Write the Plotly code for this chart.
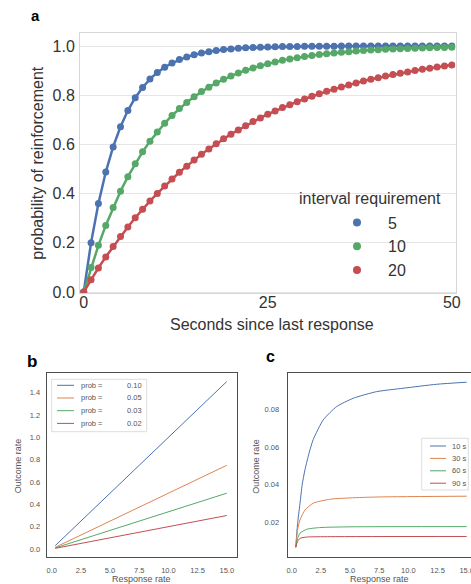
import plotly.graph_objects as go

# ---------------- Panel a data ----------------
seconds = list(range(51))
interval_labels = ["5", "10", "20"]
prob_5 = [0, 0.2, 0.36, 0.488, 0.59, 0.672, 0.738, 0.79, 0.832, 0.866, 0.893, 0.914, 0.931,
          0.945, 0.956, 0.965, 0.972, 0.977, 0.982, 0.986, 0.988, 0.991, 0.993, 0.994, 0.995,
          0.996, 0.997, 0.998, 0.998, 0.998, 0.999, 0.999, 0.999, 0.999, 0.999, 1.0, 1.0, 1.0,
          1.0, 1.0, 1.0, 1.0, 1.0, 1.0, 1.0, 1.0, 1.0, 1.0, 1.0, 1.0, 1.0]
prob_10 = [0, 0.1, 0.19, 0.271, 0.344, 0.41, 0.469, 0.522, 0.57, 0.613, 0.651, 0.686, 0.718,
           0.746, 0.771, 0.794, 0.815, 0.833, 0.85, 0.865, 0.878, 0.891, 0.902, 0.911, 0.92,
           0.928, 0.935, 0.942, 0.948, 0.953, 0.958, 0.962, 0.966, 0.969, 0.972, 0.975, 0.977,
           0.98, 0.982, 0.984, 0.985, 0.987, 0.988, 0.989, 0.99, 0.991, 0.992, 0.993, 0.994,
           0.994, 0.995]
prob_20 = [0, 0.05, 0.098, 0.143, 0.185, 0.226, 0.265, 0.302, 0.337, 0.37, 0.401, 0.431, 0.46,
           0.487, 0.512, 0.537, 0.56, 0.582, 0.603, 0.623, 0.642, 0.659, 0.676, 0.693, 0.708,
           0.723, 0.736, 0.75, 0.762, 0.774, 0.785, 0.796, 0.806, 0.816, 0.825, 0.834, 0.842,
           0.85, 0.858, 0.865, 0.871, 0.878, 0.884, 0.89, 0.895, 0.901, 0.906, 0.91, 0.915,
           0.919, 0.923]

# ---------------- Panel b data ----------------
b_prob_labels = ["0.10", "0.05", "0.03", "0.02"]
b_rate = [0.3, 15.0]
b_out_010 = [0.03, 1.5]
b_out_005 = [0.015, 0.75]
b_out_003 = [0.01, 0.5]
b_out_002 = [0.006, 0.3]

# ---------------- Panel c data ----------------
c_labels = ["10 s", "30 s", "60 s", "90 s"]
c_rate_10 = [0.35, 0.5, 0.71, 0.9, 1.14, 1.5, 1.85, 2.71, 3.86, 5.28, 7.28, 9.56, 12.42, 15.0]
c_out_10 = [0.007, 0.019, 0.030, 0.040, 0.048, 0.057, 0.064, 0.0744, 0.0814, 0.0858, 0.0893,
            0.0911, 0.0932, 0.0943]
c_rate_30 = [0.35, 0.5, 0.71, 1.14, 1.85, 3.3, 5.0, 7.5, 15.0]
c_out_30 = [0.007, 0.016, 0.0214, 0.0267, 0.0303, 0.0324, 0.0331, 0.0336, 0.0340]
c_rate_60 = [0.35, 0.5, 0.71, 1.29, 2.4, 5.0, 15.0]
c_out_60 = [0.007, 0.0115, 0.0144, 0.0165, 0.0174, 0.0178, 0.0179]
c_rate_90 = [0.35, 0.5, 0.71, 1.29, 3.3, 15.0]
c_out_90 = [0.007, 0.0100, 0.0117, 0.0124, 0.0126, 0.0127]

W, H = 471, 584
FONT = "Liberation Sans, Arial, Helvetica, sans-serif"
BLUE, ORANGE, GREEN, RED = "#4C72B0", "#DD8452", "#55A868", "#C44E52"


def fx(p):
    return p / W


def fy(p):
    return 1 - p / H


fig = go.Figure()

# Panel a traces
for ys, col, lab in zip([prob_5, prob_10, prob_20], [BLUE, GREEN, RED], interval_labels):
    fig.add_trace(go.Scatter(x=seconds, y=ys, mode="lines+markers",
                             line=dict(color=col, width=2.5),
                             marker=dict(color=col, size=7),
                             showlegend=False, xaxis="x", yaxis="y"))
for col, lab in zip([BLUE, GREEN, RED], interval_labels):
    fig.add_trace(go.Scatter(x=[None], y=[None], mode="markers", name=lab,
                             marker=dict(color=col, size=8),
                             showlegend=True, xaxis="x", yaxis="y"))

# Panel b traces
b_cols = [BLUE, ORANGE, GREEN, RED]
for ys, col in zip([b_out_010, b_out_005, b_out_003, b_out_002], b_cols):
    fig.add_trace(go.Scatter(x=b_rate, y=ys, mode="lines", line=dict(color=col, width=1),
                             showlegend=False, xaxis="x2", yaxis="y2"))

# Panel c traces
for xs, ys, col in zip([c_rate_10, c_rate_30, c_rate_60, c_rate_90],
                       [c_out_10, c_out_30, c_out_60, c_out_90], b_cols):
    fig.add_trace(go.Scatter(x=xs, y=ys, mode="lines",
                             line=dict(color=col, width=1, shape="spline", smoothing=0.6),
                             showlegend=False, xaxis="x3", yaxis="y3"))

tick_a = dict(family=FONT, size=16, color="#333333")
tick_bc = dict(family=FONT, size=7.5, color="#555555")

layout = dict(
    width=W, height=H,
    margin=dict(l=0, r=0, t=0, b=0, autoexpand=False),
    paper_bgcolor="white", plot_bgcolor="white",
    font=dict(family=FONT, color="#333333"),
    xaxis=dict(domain=[fx(80), fx(455.5)], range=[-0.5, 50.5], tickvals=[0, 25, 50],
               showgrid=False, zeroline=False, showline=True, mirror=True,
               linecolor="#d6d6d6", linewidth=1, ticks="", tickfont=tick_a,
               ticklabelstandoff=-6, anchor="y"),
    yaxis=dict(domain=[fy(293.3), fy(33.3)], range=[-0.005, 1.052], dtick=0.2, tick0=0,
               tickformat=".1f", showgrid=True, gridcolor="#e6e6e6", gridwidth=1,
               zeroline=False, showline=True, mirror=True, linecolor="#d6d6d6",
               ticks="", tickfont=tick_a, ticklabelstandoff=1, anchor="x"),
    xaxis2=dict(domain=[fx(46.7), fx(236.7)], range=[-0.43, 15.85], tick0=0, dtick=2.5,
                tickformat=".1f", showgrid=False, zeroline=False, showline=True, mirror=True,
                linecolor="#4d4d4d", linewidth=1.2, ticks="", tickfont=tick_bc,
                ticklabelstandoff=6, anchor="y2"),
    yaxis2=dict(domain=[fy(556.7), fy(373.3)], range=[-0.069, 1.574], tick0=0, dtick=0.2,
                tickformat=".1f", showgrid=False, zeroline=False, showline=True, mirror=True,
                linecolor="#4d4d4d", linewidth=1.2, ticks="", tickfont=tick_bc,
                ticklabelstandoff=4, anchor="x2"),
    xaxis3=dict(domain=[fx(287.7), 1.0], range=[-0.34, 15.37], tick0=0, dtick=2.5,
                tickformat=".1f", showgrid=False, zeroline=False, showline=True, mirror=True,
                linecolor="#4d4d4d", linewidth=1.2, ticks="", tickfont=tick_bc,
                ticklabelstandoff=6, ticklabeloverflow="allow", anchor="y3"),
    yaxis3=dict(domain=[fy(556.7), fy(373.3)], range=[0.002, 0.099], tick0=0, dtick=0.02,
                tickformat=".2f", showgrid=False, zeroline=False, showline=True, mirror=False,
                linecolor="#4d4d4d", linewidth=1.2, ticks="", tickfont=tick_bc,
                ticklabelstandoff=6, anchor="x3"),
    legend=dict(x=fx(326), y=fy(205.5), xanchor="left", yanchor="top",
                bgcolor="rgba(0,0,0,0)", borderwidth=0, itemwidth=52,
                font=dict(family=FONT, size=16, color="#333333"), tracegroupgap=0),
)
fig.update_layout(**layout)

ann = []


def add_text(text, x, y, size, color="#333333", angle=0, xanchor="center", bold=False):
    ann.append(dict(text=("<b>%s</b>" % text) if bold else text, x=fx(x), y=fy(y),
                    xref="paper", yref="paper", xanchor=xanchor, yanchor="middle",
                    showarrow=False, textangle=angle,
                    font=dict(family=FONT, size=size, color=color)))


# panel labels
add_text("a", 35, 15, 15, "black", bold=True)
add_text("b", 32, 361, 17, "black", bold=True)
add_text("c", 270, 356, 16, "black", bold=True)
# axis titles
add_text("probability of reinforcement", 36.7, 163, 16, angle=-90)
add_text("Seconds since last response", 271.5, 324, 16)
add_text("interval requirement", 370, 198, 16)
for xc in [18.3, 255.7]:
    add_text("Outcome rate", xc, 466, 9, "#555555", angle=-90)
for xc in [141.7, 379]:
    add_text("Response rate", xc, 578.5, 9, "#555555")

shapes = []
# panel b legend box and entries
shapes.append(dict(type="rect", xref="paper", yref="paper", x0=fx(51.7), x1=fx(146.7),
                   y0=fy(431.7), y1=fy(379.3), fillcolor="white",
                   line=dict(color="#dddddd", width=1)))
for i, (lab, col) in enumerate(zip(b_prob_labels, b_cols)):
    yy = 385.3 + i * 12.7
    shapes.append(dict(type="line", xref="paper", yref="paper", x0=fx(57), x1=fx(74),
                       y0=fy(yy), y1=fy(yy), line=dict(color=col, width=1)))
    add_text("prob =", 79.3, yy, 7.5, "#555555", xanchor="left")
    add_text(lab, 125, yy, 7.5, "#555555", xanchor="left")
# panel c legend box and entries
shapes.append(dict(type="rect", xref="paper", yref="paper", x0=fx(421.7), x1=fx(468.3),
                   y0=fy(490), y1=fy(438.3), fillcolor="white",
                   line=dict(color="#dddddd", width=1)))
for i, (lab, col) in enumerate(zip(c_labels, b_cols)):
    yy = 446 + i * 12.4
    shapes.append(dict(type="line", xref="paper", yref="paper", x0=fx(430), x1=fx(446),
                       y0=fy(yy), y1=fy(yy), line=dict(color=col, width=1)))
    add_text(lab, 450, yy, 7.5, "#555555", xanchor="left")

fig.update_layout(annotations=ann, shapes=shapes)
fig.write_html("out.html")
